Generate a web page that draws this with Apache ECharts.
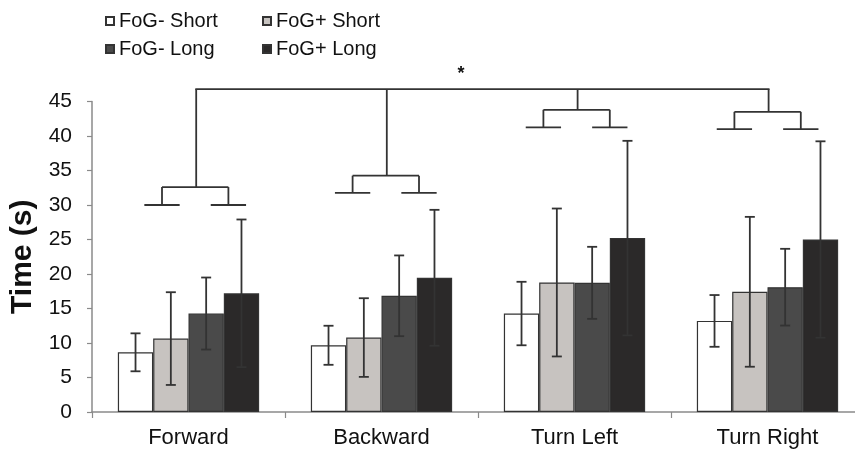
<!DOCTYPE html>
<html>
<head>
<meta charset="utf-8">
<script src="https://cdn.jsdelivr.net/npm/echarts@6/dist/echarts.min.js"></script>
<style>
  html, body { margin: 0; padding: 0; background: #fff; }
  #chart { width: 855px; height: 452px; }
</style>
</head>
<body>
<div id="chart"></div>
<script>
// ---- data ----
const categories = ['Forward', 'Backward', 'Turn Left', 'Turn Right'];
const seriesNames = ['FoG- Short', 'FoG+ Short', 'FoG- Long', 'FoG+ Long'];
const fogMinusShort = [8.65, 9.67, 14.27, 13.2];
const fogPlusShort  = [10.64, 10.79, 18.77, 17.42];
const fogMinusLong  = [14.27, 16.84, 18.72, 18.09];
const fogPlusLong   = [17.2, 19.45, 25.2, 25.0];
const errMinusShort = [2.75, 2.83, 4.6, 3.75];
const errPlusShort  = [6.72, 5.7, 10.72, 10.86];
const errMinusLong  = [5.22, 5.85, 5.22, 5.56];
const errPlusLong   = [10.7, 9.85, 14.1, 14.23];
const yTicks = [0, 5, 10, 15, 20, 25, 30, 35, 40, 45];
// significance brackets (value levels)
const bracketTop  = [32.6, 34.25, 43.8, 43.5];
const bracketBase = [30.0, 31.75, 41.25, 41.0];
const sigLevel = 46.8;
const sigMark = '*';

// ---- layout / style ----
const FONT = 'Liberation Sans, Arial, sans-serif';
const BAR_FRAC = 0.183;
const BRACKET_SHIFT = [6.7, 4.3, 2.1, 0.1];
const colors = ['#ffffff', '#c7c3c0', '#4a4a4a', '#2b2929'];
const means = [fogMinusShort, fogPlusShort, fogMinusLong, fogPlusLong];
const errs = [errMinusShort, errPlusShort, errMinusLong, errPlusLong];

const chart = echarts.init(document.getElementById('chart'));

const barSeries = seriesNames.map((name, s) => ({
  name: name,
  type: 'bar',
  data: means[s],
  barWidth: (BAR_FRAC * 100) + '%',
  barGap: '0%',
  itemStyle: { color: colors[s], borderColor: '#333', borderWidth: 1.2 },
  emphasis: { disabled: true },
  z: 2
}));

const errData = [];
for (let s = 0; s < 4; s++) {
  for (let i = 0; i < categories.length; i++) {
    errData.push([i, s, means[s][i], errs[s][i]]);
  }
}

const errorSeries = {
  type: 'custom',
  name: 'err',
  data: errData,
  encode: { x: 0, y: 2 },
  z: 5,
  silent: true,
  renderItem: function (params, api) {
    const i = api.value(0), s = api.value(1), m = api.value(2), e = api.value(3);
    const bandW = api.size([1, 0])[0];
    const barW = bandW * BAR_FRAC;
    const c = api.coord([i, m]);
    const x = c[0] + (s - 1.5) * barW;
    const yHi = api.coord([i, m + e])[1];
    const yLo = api.coord([i, m - e])[1];
    const cap = 5;
    const st = { stroke: '#333', lineWidth: 1.8 };
    return {
      type: 'group',
      children: [
        { type: 'line', shape: { x1: x, y1: yHi, x2: x, y2: yLo }, style: st },
        { type: 'line', shape: { x1: x - cap, y1: yHi, x2: x + cap, y2: yHi }, style: st },
        { type: 'line', shape: { x1: x - cap, y1: yLo, x2: x + cap, y2: yLo }, style: st }
      ]
    };
  }
};

const bracketData = categories.map((c, i) => [i, bracketTop[i], bracketBase[i]]);

const bracketSeries = {
  type: 'custom',
  name: 'brackets',
  data: bracketData,
  encode: { x: 0, y: 1 },
  z: 6,
  silent: true,
  clip: false,
  renderItem: function (params, api) {
    const i = api.value(0), top = api.value(1), base = api.value(2);
    const bandW = api.size([1, 0])[0];
    const barW = bandW * BAR_FRAC;
    const mid = api.coord([i, top])[0] + BRACKET_SHIFT[i];
    const yTop = api.coord([i, top])[1];
    const yBase = api.coord([i, base])[1];
    const ySig = api.coord([i, sigLevel])[1];
    const half = 0.94 * barW;
    const lx = mid - half, rx = mid + half;
    const st = { stroke: '#333', lineWidth: 1.8 };
    const children = [
      { type: 'line', shape: { x1: lx - barW / 2, y1: yBase, x2: lx + barW / 2, y2: yBase }, style: st },
      { type: 'line', shape: { x1: rx - barW / 2, y1: yBase, x2: rx + barW / 2, y2: yBase }, style: st },
      { type: 'line', shape: { x1: lx, y1: yBase, x2: lx, y2: yTop }, style: st },
      { type: 'line', shape: { x1: rx, y1: yBase, x2: rx, y2: yTop }, style: st },
      { type: 'line', shape: { x1: lx, y1: yTop, x2: rx, y2: yTop }, style: st },
      { type: 'line', shape: { x1: mid + 1, y1: yTop, x2: mid + 1, y2: ySig }, style: st }
    ];
    if (i === 0) {
      const last = categories.length - 1;
      const x0 = mid + 1;
      const x1 = api.coord([last, sigLevel])[0] + BRACKET_SHIFT[last] + 1;
      children.push({ type: 'line', shape: { x1: x0 - 0.9, y1: ySig, x2: x1 + 0.9, y2: ySig }, style: st });
      children.push({
        type: 'text',
        style: {
          text: sigMark, x: x0 + (x1 - x0) * 0.4625, y: ySig - 15,
          textAlign: 'center', textVerticalAlign: 'middle',
          font: 'bold 18px ' + FONT, fill: '#111'
        }
      });
    }
    return { type: 'group', children: children };
  }
};

const legendCommon = {
  orient: 'vertical',
  itemWidth: 8,
  itemHeight: 8,
  itemGap: 8,
  padding: 0,
  top: 11,
  icon: 'rect',
  selectedMode: false,
  textStyle: { fontFamily: FONT, fontSize: 20, color: '#111' }
};

chart.setOption({
  animation: false,
  backgroundColor: '#ffffff',
  textStyle: { fontFamily: FONT },
  legend: [
    Object.assign({}, legendCommon, { left: 105, data: [seriesNames[0], seriesNames[2]] }),
    Object.assign({}, legendCommon, { left: 262, data: [seriesNames[1], seriesNames[3]] })
  ],
  grid: { left: 92, width: 772, top: 101.5, bottom: 40, containLabel: false, outerBoundsMode: 'none' },
  xAxis: {
    type: 'category',
    data: categories,
    axisLine: { lineStyle: { color: '#8a8a8a', width: 1.5 } },
    axisTick: { show: true, alignWithLabel: false, length: 6, lineStyle: { color: '#8a8a8a', width: 1.2 } },
    axisLabel: { fontFamily: FONT, fontSize: 22, color: '#111', margin: 15 },
    splitLine: { show: false }
  },
  yAxis: {
    type: 'value',
    min: yTicks[0],
    max: yTicks[yTicks.length - 1],
    interval: yTicks[1] - yTicks[0],
    name: 'Time (s)',
    nameLocation: 'middle',
    nameRotate: 90,
    nameGap: 53,
    nameTextStyle: { fontFamily: FONT, fontSize: 30, fontWeight: 'bold', color: '#111' },
    axisLine: { show: true, lineStyle: { color: '#8a8a8a', width: 1.5 } },
    axisTick: { show: true, length: 5, lineStyle: { color: '#8a8a8a', width: 1.2 } },
    axisLabel: { fontFamily: FONT, fontSize: 21, color: '#111', margin: 20 },
    splitLine: { show: false }
  },
  series: barSeries.concat([errorSeries, bracketSeries])
});
</script>
</body>
</html>
